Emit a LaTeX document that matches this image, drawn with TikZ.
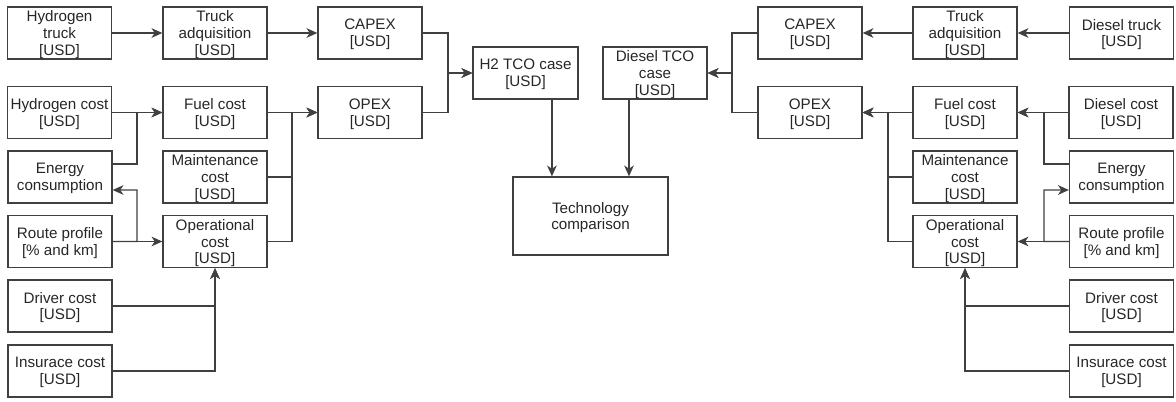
\documentclass[tikz,border=0pt]{standalone}
\usepackage{fontspec}
\setmainfont{Liberation Sans}
\usetikzlibrary{arrows.meta, positioning}

\begin{document}
\begin{tikzpicture}[x=0.025cm, y=-0.025cm,
    box/.style={draw=black!75, line width=0.9pt, minimum width=2.6cm, minimum height=1.3cm,
      inner sep=0pt, align=center, text=black!85, font=\fontsize{10.8}{11.9}\selectfont,
      text depth=-3.6pt},
    link/.style={draw=black!75, line width=0.95pt, -{Stealth[length=2.7mm, width=2.4mm, inset=0.8mm]}}]
    \useasboundingbox (0,0) rectangle (1176,401);

    % H2 side
    \node[box] (htruck)  at (59.5,33)    {Hydrogen\\truck\\{[USD]}};
    \node[box] (hadq)    at (215,33)     {Truck\\adquisition\\{[USD]}};
    \node[box] (hcapex)  at (370,33)     {CAPEX\\{[USD]}};
    \node[box] (hcost)   at (59.5,112.5) {Hydrogen cost\\{[USD]}};
    \node[box] (hfuel)   at (215,112.5)  {Fuel cost\\{[USD]}};
    \node[box] (hopex)   at (370,112.5)  {OPEX\\{[USD]}};
    \node[box] (henergy) at (60,177)     {Energy\\consumption};
    \node[box] (hmaint)  at (215,177)    {Maintenance\\cost\\{[USD]}};
    \node[box] (hroute)  at (60,241.5)   {Route profile\\{[\% and km]}};
    \node[box] (hoper)   at (215,241.5)  {Operational\\cost\\{[USD]}};
    \node[box] (hdriver) at (60,306)     {Driver cost\\{[USD]}};
    \node[box] (hins)    at (60,371)     {Insurace cost\\{[USD]}};

    % middle
    \node[box, minimum width=2.625cm] (h2tco) at (525.5,73) {H2 TCO case\\{[USD]}};
    \node[box, minimum width=2.6cm]   (dtco)  at (655,73)   {Diesel TCO\\case\\{[USD]}};
    \node[box, minimum width=3.875cm, minimum height=1.95cm] (tech) at (590.5,216) {Technology\\comparison};

    % Diesel side
    \node[box] (dcapex)  at (810,33)      {CAPEX\\{[USD]}};
    \node[box] (dadq)    at (965,33)      {Truck\\adquisition\\{[USD]}};
    \node[box] (dtruck)  at (1121.5,33)   {Diesel truck\\{[USD]}};
    \node[box] (dopex)   at (810,112.5)   {OPEX\\{[USD]}};
    \node[box] (dfuel)   at (965,112.5)   {Fuel cost\\{[USD]}};
    \node[box] (dcost)   at (1121,112.5)  {Diesel cost\\{[USD]}};
    \node[box] (dmaint)  at (965,177)     {Maintenance\\cost\\{[USD]}};
    \node[box] (denergy) at (1121.5,177)  {Energy\\consumption};
    \node[box] (doper)   at (965,241.5)   {Operational\\cost\\{[USD]}};
    \node[box] (droute)  at (1121.5,241.5){Route profile\\{[\% and km]}};
    \node[box] (ddriver) at (1121.5,306)  {Driver cost\\{[USD]}};
    \node[box] (dins)    at (1121.5,371)  {Insurace cost\\{[USD]}};

    % junctions
    \coordinate (hjcase)  at (448,73);
    \coordinate (hjfuel)  at (137,112.5);
    \coordinate (hjroute) at (137,190);
    \coordinate (hjopex)  at (292,112.5);
    \coordinate (djcase)  at (732,73);
    \coordinate (djfuel)  at (1044,112.5);
    \coordinate (djroute) at (1044,190);
    \coordinate (djopex)  at (888,112.5);

    % H2 links
    \draw[link] (htruck) -- (hadq);
    \draw[link] (hadq) -- (hcapex);
    \draw[link] (hcost) -- (hfuel);
    \draw[link] ([yshift=3.25mm]henergy.east) -| (hjfuel) -- (hfuel.west);
    \draw[link] (hroute) -- (hoper);
    \draw[link] (hroute.east) -| (hjroute) -- ([yshift=-3.25mm]henergy.east);
    \draw[link] (hfuel) -- (hopex);
    \draw[link] (hmaint.east) -| (hjopex) -- (hopex.west);
    \draw[link] (hoper.east) -| (hjopex) -- (hopex.west);
    \draw[link] (hdriver.east) -| (hoper.south);
    \draw[link] (hins.east) -| (hoper.south);
    \draw[link] (hcapex.east) -| (hjcase) -- (h2tco.west);
    \draw[link] (hopex.east) -| (hjcase) -- (h2tco.west);

    % comparison
    \draw[link] ([xshift=6.6mm]h2tco.south) -- ([xshift=6.6mm]h2tco.south |- tech.north);
    \draw[link] ([xshift=-6.5mm]dtco.south) -- ([xshift=-6.5mm]dtco.south |- tech.north);

    % Diesel links
    \draw[link] (dtruck) -- (dadq);
    \draw[link] (dadq) -- (dcapex);
    \draw[link] (dcost) -- (dfuel);
    \draw[link] ([yshift=3.25mm]denergy.west) -| (djfuel) -- (dfuel.east);
    \draw[link] (droute) -- (doper);
    \draw[link] (droute.west) -| (djroute) -- ([yshift=-3.25mm]denergy.west);
    \draw[link] (dfuel) -- (dopex);
    \draw[link] (dmaint.west) -| (djopex) -- (dopex.east);
    \draw[link] (doper.west) -| (djopex) -- (dopex.east);
    \draw[link] (ddriver.west) -| (doper.south);
    \draw[link] (dins.west) -| (doper.south);
    \draw[link] (dcapex.west) -| (djcase) -- (dtco.east);
    \draw[link] (dopex.west) -| (djcase) -- (dtco.east);
\end{tikzpicture}
\end{document}
